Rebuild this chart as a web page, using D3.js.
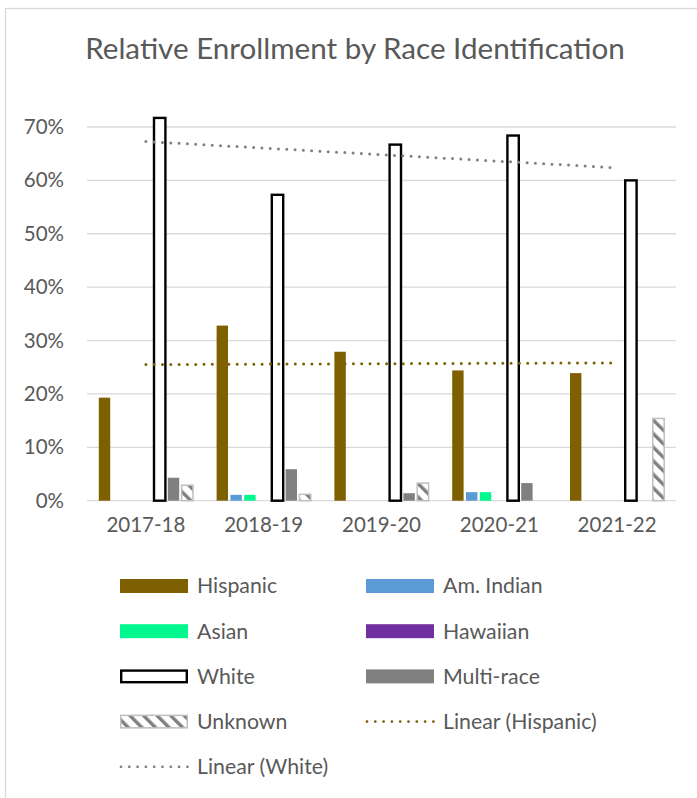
<!DOCTYPE html>
<html>
<head>
<meta charset="utf-8">
<script src="https://cdn.jsdelivr.net/npm/d3@7"></script>
<style>
  html, body { margin: 0; padding: 0; background: #fff; }
  svg { display: block; }
  text { font-family: Lato, "Open Sans", sans-serif; fill: #595959; }
</style>
</head>
<body>
<svg id="chart" width="697" height="798"></svg>
<script>
// School years on the category axis
const years = ["2017-18", "2018-19", "2019-20", "2020-21", "2021-22"];

// Share of enrollment per group (percent)
const hispanic  = [19.3, 32.8, 27.9, 24.4, 23.9];
const amIndian  = [0, 1.1, 0, 1.6, 0];
const asian     = [0, 1.1, 0, 1.6, 0];
const hawaiian  = [0, 0, 0, 0, 0];
const white     = [71.7, 57.3, 66.7, 68.4, 60.0];
const multiRace = [4.3, 5.9, 1.4, 3.3, 0];
const unknown   = [2.9, 1.2, 3.3, 0, 15.4];

const seriesNames = ["Hispanic", "Am. Indian", "Asian", "Hawaiian", "White", "Multi-race", "Unknown"];
const yTicks = [0, 10, 20, 30, 40, 50, 60, 70];

const seriesValues = [hispanic, amIndian, asian, hawaiian, white, multiRace, unknown];

const style = {
  "Hispanic":   { fill: "#7f6000" },
  "Am. Indian": { fill: "#5b9bd5" },
  "Asian":      { fill: "#00f88e" },
  "Hawaiian":   { fill: "#7030a0" },
  "White":      { fill: "#ffffff", stroke: "#000000", sw: 2.4 },
  "Multi-race": { fill: "#808080" },
  "Unknown":    { fill: "url(#hatch)", stroke: "#bfbfbf", sw: 1.5 }
};

const svg = d3.select("#chart");

// Hatch pattern for the "Unknown" series
const defs = svg.append("defs");
const pat = defs.append("pattern")
  .attr("id", "hatch")
  .attr("patternUnits", "userSpaceOnUse")
  .attr("width", 9.6).attr("height", 9.6)
  .attr("patternTransform", "rotate(-45)");
pat.append("rect").attr("width", 9.6).attr("height", 9.6).attr("fill", "#ffffff");
pat.append("rect").attr("x", 0).attr("width", 3.4).attr("height", 9.6).attr("fill", "#7f7f7f");

// Chart frame
svg.append("rect")
  .attr("x", 5.5).attr("y", 8.5)
  .attr("width", 760).attr("height", 860)
  .attr("fill", "#fff").attr("stroke", "#d9d9d9").attr("stroke-width", 1.3);

// Title
svg.append("text")
  .attr("x", 355).attr("y", 59)
  .attr("text-anchor", "middle")
  .style("font-size", "29.6px")
  .text("Relative Enrollment by Race Identification");

// Scales
const plotLeft = 87, plotRight = 676;
const x0 = d3.scaleBand().domain(years).range([plotLeft, plotRight])
  .paddingInner(0.18).paddingOuter(0.09);
const x1 = d3.scaleBand().domain(seriesNames).range([0, x0.bandwidth()]);
const y = d3.scaleLinear().domain([0, 70]).range([500.7, 127]);

// Gridlines
svg.append("g")
  .selectAll("line")
  .data(yTicks)
  .join("line")
  .attr("x1", plotLeft).attr("x2", plotRight)
  .attr("y1", d => y(d)).attr("y2", d => y(d))
  .attr("stroke", "#d9d9d9").attr("stroke-width", 1.3);

// Y axis labels
const yAxis = svg.append("g")
  .attr("transform", `translate(${plotLeft - 23},0)`)
  .call(d3.axisLeft(y).tickValues(yTicks).tickFormat(d => d + "%").tickSize(0).tickPadding(0));
yAxis.select(".domain").remove();
yAxis.selectAll("text")
  .style("font-size", "20.5px")
  .style("font-family", "Lato, sans-serif")
  .attr("fill", "#595959");

// X axis labels
const xAxis = svg.append("g")
  .attr("transform", `translate(0,${y(0)})`)
  .call(d3.axisBottom(x0).tickSize(0).tickPadding(0));
xAxis.select(".domain").remove();
xAxis.selectAll("text")
  .attr("dy", 0).attr("y", 31)
  .style("font-size", "20.5px")
  .style("font-family", "Lato, sans-serif")
  .attr("fill", "#595959");

// Bars
const barW = 11.4;
const barData = [];
seriesNames.forEach((s, si) => {
  years.forEach((yr, yi) => {
    barData.push({ series: s, year: yr, value: seriesValues[si][yi] });
  });
});

svg.append("g")
  .selectAll("rect")
  .data(barData.filter(d => d.value > 0))
  .join("rect")
  .attr("x", d => x0(d.year) + x1(d.series) + (x1.bandwidth() - barW) / 2)
  .attr("width", barW)
  .attr("y", d => y(d.value))
  .attr("height", d => y(0) - y(d.value))
  .attr("fill", d => style[d.series].fill)
  .attr("stroke", d => style[d.series].stroke || "none")
  .attr("stroke-width", d => style[d.series].sw || 0);

// Linear trend lines (least squares over category index)
function linearFit(vals) {
  const n = vals.length;
  const xs = d3.range(n);
  const mx = d3.mean(xs), my = d3.mean(vals);
  const slope = d3.sum(xs, i => (i - mx) * (vals[i] - my)) / d3.sum(xs, i => (i - mx) ** 2);
  const icpt = my - slope * mx;
  return [[0, icpt], [n - 1, icpt + slope * (n - 1)]];
}
const trendLine = d3.line()
  .x(d => x0(years[d[0]]) + x0.bandwidth() / 2)
  .y(d => y(d[1]));

const trends = [
  { name: "Linear (Hispanic)", vals: hispanic, color: "#7f6000" },
  { name: "Linear (White)", vals: white, color: "#808080" }
];
svg.append("g")
  .selectAll("path")
  .data(trends)
  .join("path")
  .attr("d", d => trendLine(linearFit(d.vals)))
  .attr("fill", "none")
  .attr("stroke", d => d.color)
  .attr("stroke-width", 3)
  .attr("stroke-linecap", "round")
  .attr("stroke-dasharray", "0 8.3");

// Legend
const legendItems = seriesNames.map(s => ({ name: s, kind: "bar" }))
  .concat(trends.map(t => ({ name: t.name, kind: "line", color: t.color })));
const colX = [120, 366];
const rowY0 = 586, rowStep = 45.2;
const lg = svg.append("g")
  .selectAll("g")
  .data(legendItems)
  .join("g")
  .attr("transform", (d, i) => `translate(${colX[i % 2]},${rowY0 + Math.floor(i / 2) * rowStep})`);

lg.filter(d => d.kind === "bar").append("rect")
  .attr("x", d => style[d.name].sw ? style[d.name].sw / 2 : 0)
  .attr("y", d => -7 + (style[d.name].sw ? style[d.name].sw / 2 : 0))
  .attr("width", d => 68 - (style[d.name].sw || 0))
  .attr("height", d => 14 - (style[d.name].sw || 0))
  .attr("fill", d => style[d.name].fill)
  .attr("stroke", d => style[d.name].stroke || "none")
  .attr("stroke-width", d => style[d.name].sw || 0);

lg.filter(d => d.kind === "line").append("line")
  .attr("x1", 1).attr("x2", 68)
  .attr("y1", 0).attr("y2", 0)
  .attr("stroke", d => d.color)
  .attr("stroke-width", 2.8)
  .attr("stroke-linecap", "round")
  .attr("stroke-dasharray", "0 8.3");

lg.append("text")
  .attr("x", 77)
  .attr("dy", "0.35em")
  .style("font-size", "21.3px")
  .text(d => d.name);
</script>
</body>
</html>
